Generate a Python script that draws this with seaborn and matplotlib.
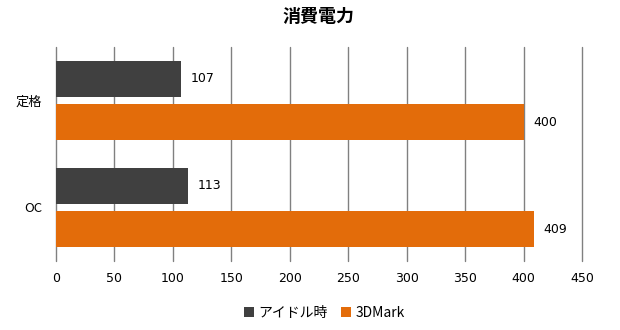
import matplotlib
matplotlib.use("Agg")
import matplotlib.pyplot as plt
import seaborn as sns
import pandas as pd

categories = ["定格", "OC"]
series_names = ["アイドル時", "3DMark"]
idle_values = [107, 113]
mark_values = [400, 409]
x_ticks = [0, 50, 100, 150, 200, 250, 300, 350, 400, 450]
colors = ["#404040", "#E36C0A"]

df = pd.DataFrame({
    "cat": categories * 2,
    "series": [series_names[0]] * 2 + [series_names[1]] * 2,
    "value": idle_values + mark_values,
})

sns.set_theme(style="white")
plt.rcParams["font.family"] = ["DejaVu Sans", "Noto Sans CJK JP"]
plt.rcParams["text.color"] = "black"
plt.rcParams["xtick.color"] = "black"
plt.rcParams["ytick.color"] = "black"

cjk = ["Noto Sans CJK JP", "DejaVu Sans"]

fig = plt.figure(figsize=(6.2, 3.3), dpi=100)
ax = fig.add_axes([0.0903, 0.209, 0.8484, 0.649])

sns.barplot(data=df, y="cat", x="value", hue="series", order=categories,
            hue_order=series_names, palette=colors, orient="h",
            width=0.81, gap=0.17, saturation=1, linewidth=0,
            ax=ax, legend=True)

for cont in ax.containers:
    ax.bar_label(cont, labels=[f"{v:.0f}" for v in cont.datavalues],
                 padding=7, fontsize=9, color="black")

ax.set_xlim(0, 450)
ax.set_ylim(1.5, -0.5)
ax.set_xticks(x_ticks)
ax.set_xticklabels([str(t) for t in x_ticks], fontsize=9)
ax.set_yticks(range(len(categories)))
ax.set_yticklabels(categories, fontsize=9.5, family=cjk)
ax.set_xlabel("")
ax.set_ylabel("")
ax.xaxis.grid(True, color="#808080", linewidth=1)
for gl in ax.get_xgridlines():
    gl.set_clip_on(False)
ax.set_axisbelow(True)
for s in ax.spines.values():
    s.set_visible(False)
ax.tick_params(axis="x", length=0, pad=8)
ax.tick_params(axis="y", length=0, pad=10)

ax.set_title("消費電力", fontsize=13, fontweight="bold", family=cjk,
             color="black", pad=18)

handles, labels = ax.get_legend_handles_labels()
ax.legend(handles, labels, loc="upper center", bbox_to_anchor=(0.51, -0.15),
          ncol=2, frameon=False, handlelength=0.7, handleheight=0.7,
          handletextpad=0.3, columnspacing=1.0,
          prop={"family": cjk, "size": 10})

fig.savefig("out.png", dpi=100, facecolor="white")
